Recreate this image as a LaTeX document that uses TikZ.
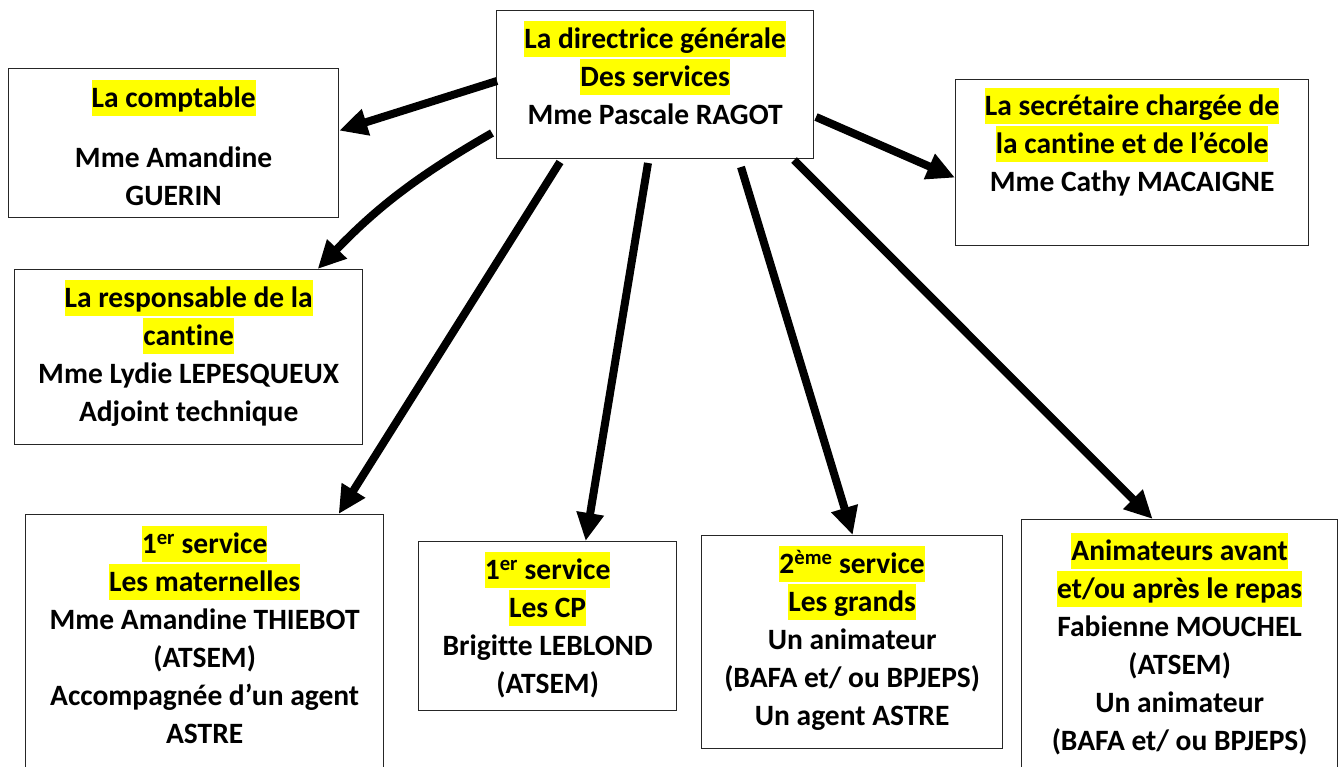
\documentclass[tikz,border=0pt]{standalone}
\usepackage{fontspec}
\setmainfont{Carlito}[Ligatures=NoCommon]
\usetikzlibrary{arrows.meta,calc}
\definecolor{hly}{RGB}{255,255,0}
\newcommand\hlt[1]{{\setlength{\fboxsep}{0pt}\colorbox{hly}{\rule[-9pt]{0pt}{36pt}#1}}}
\newcommand\sups[1]{\textsuperscript{#1}}
\begin{document}
\begin{tikzpicture}[x=1pt,y=-1pt,
  box/.style={draw=black!85, line width=1.3pt, fill=white, inner sep=0pt, anchor=north west},
  txt/.style={font=\fontsize{29.5}{38}\selectfont\bfseries, align=center, inner sep=0pt, anchor=north},
  arr/.style={line width=8pt, -{Triangle[length=28pt,width=26pt]}}
]
\useasboundingbox[fill=white] (0,0) rectangle (1339,767);

\node[box, minimum width=317pt, minimum height=148pt,
  label={[txt,yshift=-11pt]north:{\hlt{La directrice générale}\\\hlt{Des services}\\Mme Pascale RAGOT}}] (dir) at (496,10) {};

\node[box, minimum width=330pt, minimum height=149pt,
  label={[txt,yshift=-12pt]north:{\hlt{La comptable}\\[22pt]Mme Amandine\\GUERIN}}] (comp) at (8,68) {};

\node[box, minimum width=348pt, minimum height=175pt,
  label={[txt,yshift=-11pt]north:{\hlt{La responsable de la}\\\hlt{cantine}\\Mme Lydie LEPESQUEUX\\Adjoint technique}}] (resp) at (14,269) {};

\node[box, minimum width=353pt, minimum height=166pt,
  label={[txt,yshift=-9pt]north:{\hlt{La secrétaire chargée de}\\\hlt{la cantine et de l’école}\\Mme Cathy MACAIGNE}}] (sec) at (955,79) {};

\node[box, minimum width=358pt, minimum height=270pt,
  label={[txt,yshift=-12pt]north:{\hlt{1\sups{er} service}\\\hlt{Les maternelles}\\Mme Amandine THIEBOT\\(ATSEM)\\Accompagnée d’un agent\\ASTRE}}] (mat) at (25,514) {};

\node[box, minimum width=258pt, minimum height=169pt,
  label={[txt,yshift=-11pt]north:{\hlt{1\sups{er} service}\\\hlt{Les CP}\\Brigitte LEBLOND\\(ATSEM)}}] (cp) at (418,541) {};

\node[box, minimum width=301pt, minimum height=213pt,
  label={[txt,yshift=-11pt]north:{\hlt{2\sups{ème} service}\\\hlt{Les grands}\\Un animateur\\(BAFA et/ ou BPJEPS)\\Un agent ASTRE}}] (grd) at (701,535) {};

\node[box, minimum width=316pt, minimum height=270pt,
  label={[txt,yshift=-14pt]north:{\hlt{Animateurs avant}\\\hlt{et/ou après le repas}\\Fabienne MOUCHEL\\(ATSEM)\\Un animateur\\(BAFA et/ ou BPJEPS)}}] (anim) at (1021,519) {};

\coordinate (s1) at (497,81);
\coordinate (s2) at (492,133);
\coordinate (s3) at (560,162);
\coordinate (s4) at (648,163);
\coordinate (s5) at (741,167);
\coordinate (s6) at (794,160);
\coordinate (s7) at (816,117);

\draw[arr] (s1) -- ($(comp.east)+(0,-12.5)$);
\draw[arr] (s2) to[bend right=8] ($(resp.north)+(129,0)$);
\draw[arr] (s3) -- ($(mat.north)+(134,0)$);
\draw[arr] (s4) -- ($(cp.north)+(38,0)$);
\draw[arr] (s5) -- ($(grd.north)+(0.5,0)$);
\draw[arr] (s6) -- ($(anim.north)+(-27,0)$);
\draw[arr] (s7) -- ($(sec.west)+(0,15)$);
\end{tikzpicture}
\end{document}
